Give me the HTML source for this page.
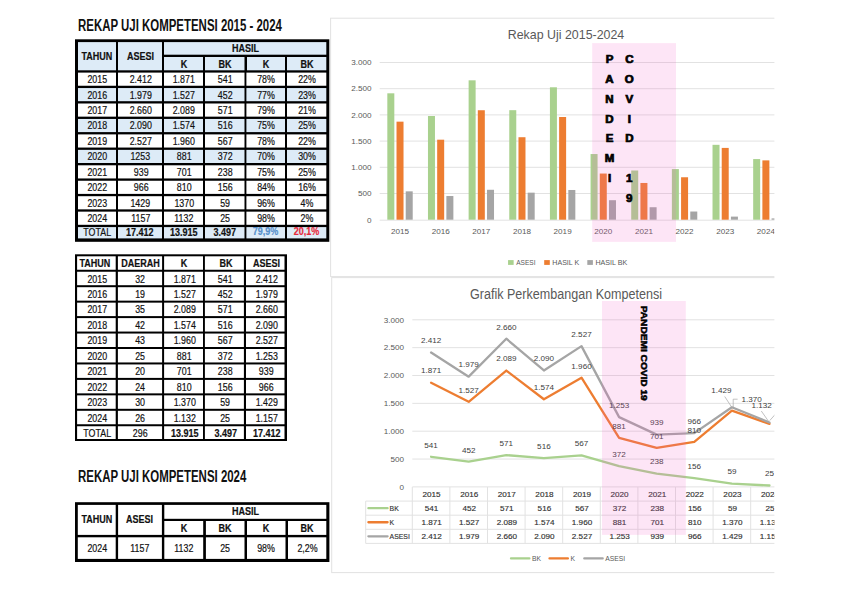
<!DOCTYPE html>
<html lang="id"><head><meta charset="utf-8"><title>Rekap Uji Kompetensi 2015 - 2024</title>
<style>
html,body{margin:0;padding:0;background:#fff}
body{width:842px;height:595px;position:relative;overflow:hidden;font-family:"Liberation Sans", sans-serif;color:#111}
svg{position:absolute;left:0;top:0}
svg text{font-family:"Liberation Sans", sans-serif}
.c{position:absolute;display:flex;align-items:center;justify-content:center;font-size:11px;line-height:1;white-space:nowrap}
.c span{display:inline-block;transform:scaleX(0.805);-webkit-text-stroke-width:0.2px}
.b{font-weight:bold}
.b span{transform:scaleX(0.82)}
.ttl{position:absolute;font-size:15.8px;font-weight:bold;line-height:1;white-space:nowrap}
.ttl span{display:inline-block;transform:scaleX(0.7245);transform-origin:0 50%}
</style></head><body>
<svg width="842" height="595" viewBox="0 0 842 595">
<defs><clipPath id="cl"><rect x="0" y="0" width="774.4" height="595"/></clipPath></defs>
<g clip-path="url(#cl)">
<rect x="330.6" y="18.2" width="500" height="258.40000000000003" fill="#fff" stroke="#e2e2e2" stroke-width="1"/>
<line x1="379.7" y1="220.20" x2="786.2" y2="220.20" stroke="#e2e2e2" stroke-width="1"/>
<text transform="translate(371.50,223.20) scale(1.1,1)" font-size="7.4" text-anchor="end" fill="#595959" font-weight="normal">0</text>
<line x1="379.7" y1="193.50" x2="786.2" y2="193.50" stroke="#e2e2e2" stroke-width="1"/>
<text transform="translate(371.50,196.10) scale(1.1,1)" font-size="7.4" text-anchor="end" fill="#595959" font-weight="normal">500</text>
<line x1="379.7" y1="167.30" x2="786.2" y2="167.30" stroke="#e2e2e2" stroke-width="1"/>
<text transform="translate(371.50,169.90) scale(1.1,1)" font-size="7.4" text-anchor="end" fill="#595959" font-weight="normal">1.000</text>
<line x1="379.7" y1="141.10" x2="786.2" y2="141.10" stroke="#e2e2e2" stroke-width="1"/>
<text transform="translate(371.50,143.70) scale(1.1,1)" font-size="7.4" text-anchor="end" fill="#595959" font-weight="normal">1.500</text>
<line x1="379.7" y1="114.90" x2="786.2" y2="114.90" stroke="#e2e2e2" stroke-width="1"/>
<text transform="translate(371.50,117.50) scale(1.1,1)" font-size="7.4" text-anchor="end" fill="#595959" font-weight="normal">2.000</text>
<line x1="379.7" y1="88.70" x2="786.2" y2="88.70" stroke="#e2e2e2" stroke-width="1"/>
<text transform="translate(371.50,91.30) scale(1.1,1)" font-size="7.4" text-anchor="end" fill="#595959" font-weight="normal">2.500</text>
<line x1="379.7" y1="62.50" x2="786.2" y2="62.50" stroke="#e2e2e2" stroke-width="1"/>
<text transform="translate(371.50,65.10) scale(1.1,1)" font-size="7.4" text-anchor="end" fill="#595959" font-weight="normal">3.000</text>
<rect x="387.32" y="93.31" width="7.0" height="126.39" fill="#a9d18e"/>
<rect x="396.52" y="121.66" width="7.0" height="98.04" fill="#ed7d31"/>
<rect x="405.72" y="191.35" width="7.0" height="28.35" fill="#a5a5a5"/>
<text transform="translate(400.02,234.30) scale(1.1,1)" font-size="7.4" text-anchor="middle" fill="#595959" font-weight="normal">2015</text>
<rect x="427.97" y="116.00" width="7.0" height="103.70" fill="#a9d18e"/>
<rect x="437.17" y="139.69" width="7.0" height="80.01" fill="#ed7d31"/>
<rect x="446.37" y="196.02" width="7.0" height="23.68" fill="#a5a5a5"/>
<text transform="translate(440.67,234.30) scale(1.1,1)" font-size="7.4" text-anchor="middle" fill="#595959" font-weight="normal">2016</text>
<rect x="468.62" y="80.32" width="7.0" height="139.38" fill="#a9d18e"/>
<rect x="477.82" y="110.24" width="7.0" height="109.46" fill="#ed7d31"/>
<rect x="487.02" y="189.78" width="7.0" height="29.92" fill="#a5a5a5"/>
<text transform="translate(481.32,234.30) scale(1.1,1)" font-size="7.4" text-anchor="middle" fill="#595959" font-weight="normal">2017</text>
<rect x="509.27" y="110.18" width="7.0" height="109.52" fill="#a9d18e"/>
<rect x="518.48" y="137.22" width="7.0" height="82.48" fill="#ed7d31"/>
<rect x="527.68" y="192.66" width="7.0" height="27.04" fill="#a5a5a5"/>
<text transform="translate(521.98,234.30) scale(1.1,1)" font-size="7.4" text-anchor="middle" fill="#595959" font-weight="normal">2018</text>
<rect x="549.92" y="87.29" width="7.0" height="132.41" fill="#a9d18e"/>
<rect x="559.12" y="117.00" width="7.0" height="102.70" fill="#ed7d31"/>
<rect x="568.33" y="189.99" width="7.0" height="29.71" fill="#a5a5a5"/>
<text transform="translate(562.62,234.30) scale(1.1,1)" font-size="7.4" text-anchor="middle" fill="#595959" font-weight="normal">2019</text>
<rect x="590.57" y="154.04" width="7.0" height="65.66" fill="#a9d18e"/>
<rect x="599.77" y="173.54" width="7.0" height="46.16" fill="#ed7d31"/>
<rect x="608.98" y="200.21" width="7.0" height="19.49" fill="#a5a5a5"/>
<text transform="translate(603.27,234.30) scale(1.1,1)" font-size="7.4" text-anchor="middle" fill="#595959" font-weight="normal">2020</text>
<rect x="631.22" y="170.50" width="7.0" height="49.20" fill="#a9d18e"/>
<rect x="640.42" y="182.97" width="7.0" height="36.73" fill="#ed7d31"/>
<rect x="649.62" y="207.23" width="7.0" height="12.47" fill="#a5a5a5"/>
<text transform="translate(643.92,234.30) scale(1.1,1)" font-size="7.4" text-anchor="middle" fill="#595959" font-weight="normal">2021</text>
<rect x="671.88" y="169.08" width="7.0" height="50.62" fill="#a9d18e"/>
<rect x="681.08" y="177.26" width="7.0" height="42.44" fill="#ed7d31"/>
<rect x="690.28" y="211.53" width="7.0" height="8.17" fill="#a5a5a5"/>
<text transform="translate(684.58,234.30) scale(1.1,1)" font-size="7.4" text-anchor="middle" fill="#595959" font-weight="normal">2022</text>
<rect x="712.52" y="144.82" width="7.0" height="74.88" fill="#a9d18e"/>
<rect x="721.72" y="147.91" width="7.0" height="71.79" fill="#ed7d31"/>
<rect x="730.92" y="216.61" width="7.0" height="3.09" fill="#a5a5a5"/>
<text transform="translate(725.22,234.30) scale(1.1,1)" font-size="7.4" text-anchor="middle" fill="#595959" font-weight="normal">2023</text>
<rect x="753.17" y="159.07" width="7.0" height="60.63" fill="#a9d18e"/>
<rect x="762.38" y="160.38" width="7.0" height="59.32" fill="#ed7d31"/>
<rect x="771.58" y="218.39" width="7.0" height="1.31" fill="#a5a5a5"/>
<text transform="translate(765.88,234.30) scale(1.1,1)" font-size="7.4" text-anchor="middle" fill="#595959" font-weight="normal">2024</text>
<text transform="translate(566.00,39.00) scale(1.0,1)" font-size="13.4" text-anchor="middle" fill="#595959" font-weight="normal" textLength="116.5" lengthAdjust="spacingAndGlyphs">Rekap Uji 2015-2024</text>
<rect x="508.05" y="260.1" width="5.6" height="4.8" fill="#a9d18e"/>
<text transform="translate(516.15,265.05) scale(1.0,1)" font-size="7.1" text-anchor="start" fill="#595959" font-weight="normal" textLength="19.4" lengthAdjust="spacingAndGlyphs">ASESI</text>
<rect x="544.2" y="260.1" width="5.6" height="4.8" fill="#ed7d31"/>
<text transform="translate(552.30,265.05) scale(1.0,1)" font-size="7.1" text-anchor="start" fill="#595959" font-weight="normal" textLength="26.9" lengthAdjust="spacingAndGlyphs">HASIL K</text>
<rect x="587.3" y="260.1" width="5.6" height="4.8" fill="#a5a5a5"/>
<text transform="translate(595.40,265.05) scale(1.0,1)" font-size="7.1" text-anchor="start" fill="#595959" font-weight="normal" textLength="31.9" lengthAdjust="spacingAndGlyphs">HASIL BK</text>
<rect x="592.2" y="43.1" width="83.8" height="198.8" fill="#f560c8" fill-opacity="0.165"/>
<text transform="translate(609.50,63.10) scale(1.15,1)" font-size="10" text-anchor="middle" fill="#000" font-weight="bold" stroke="#000" stroke-width="0.7">P</text>
<text transform="translate(629.30,63.10) scale(1.15,1)" font-size="10" text-anchor="middle" fill="#000" font-weight="bold" stroke="#000" stroke-width="0.7">C</text>
<text transform="translate(609.50,82.90) scale(1.15,1)" font-size="10" text-anchor="middle" fill="#000" font-weight="bold" stroke="#000" stroke-width="0.7">A</text>
<text transform="translate(629.30,82.90) scale(1.15,1)" font-size="10" text-anchor="middle" fill="#000" font-weight="bold" stroke="#000" stroke-width="0.7">O</text>
<text transform="translate(609.50,102.70) scale(1.15,1)" font-size="10" text-anchor="middle" fill="#000" font-weight="bold" stroke="#000" stroke-width="0.7">N</text>
<text transform="translate(629.30,102.70) scale(1.15,1)" font-size="10" text-anchor="middle" fill="#000" font-weight="bold" stroke="#000" stroke-width="0.7">V</text>
<text transform="translate(609.50,122.50) scale(1.15,1)" font-size="10" text-anchor="middle" fill="#000" font-weight="bold" stroke="#000" stroke-width="0.7">D</text>
<text transform="translate(629.30,122.50) scale(1.15,1)" font-size="10" text-anchor="middle" fill="#000" font-weight="bold" stroke="#000" stroke-width="0.7">I</text>
<text transform="translate(609.50,142.30) scale(1.15,1)" font-size="10" text-anchor="middle" fill="#000" font-weight="bold" stroke="#000" stroke-width="0.7">E</text>
<text transform="translate(629.30,142.30) scale(1.15,1)" font-size="10" text-anchor="middle" fill="#000" font-weight="bold" stroke="#000" stroke-width="0.7">D</text>
<text transform="translate(609.50,162.10) scale(1.15,1)" font-size="10" text-anchor="middle" fill="#000" font-weight="bold" stroke="#000" stroke-width="0.7">M</text>
<text transform="translate(609.50,181.90) scale(1.15,1)" font-size="10" text-anchor="middle" fill="#000" font-weight="bold" stroke="#000" stroke-width="0.7">I</text>
<text transform="translate(629.30,181.90) scale(1.15,1)" font-size="10" text-anchor="middle" fill="#000" font-weight="bold" stroke="#000" stroke-width="0.7">1</text>
<text transform="translate(629.30,201.70) scale(1.15,1)" font-size="10" text-anchor="middle" fill="#000" font-weight="bold" stroke="#000" stroke-width="0.7">9</text>
<rect x="331.7" y="277.6" width="500" height="295.0" fill="#fff" stroke="#e2e2e2" stroke-width="1"/>
<line x1="412.3" y1="486.90" x2="788.3" y2="486.90" stroke="#e2e2e2" stroke-width="1"/>
<text transform="translate(404.00,489.60) scale(1.1,1)" font-size="7.4" text-anchor="end" fill="#595959" font-weight="normal">0</text>
<line x1="412.3" y1="459.05" x2="788.3" y2="459.05" stroke="#e2e2e2" stroke-width="1"/>
<text transform="translate(404.00,461.75) scale(1.1,1)" font-size="7.4" text-anchor="end" fill="#595959" font-weight="normal">500</text>
<line x1="412.3" y1="431.20" x2="788.3" y2="431.20" stroke="#e2e2e2" stroke-width="1"/>
<text transform="translate(404.00,433.90) scale(1.1,1)" font-size="7.4" text-anchor="end" fill="#595959" font-weight="normal">1.000</text>
<line x1="412.3" y1="403.35" x2="788.3" y2="403.35" stroke="#e2e2e2" stroke-width="1"/>
<text transform="translate(404.00,406.05) scale(1.1,1)" font-size="7.4" text-anchor="end" fill="#595959" font-weight="normal">1.500</text>
<line x1="412.3" y1="375.50" x2="788.3" y2="375.50" stroke="#e2e2e2" stroke-width="1"/>
<text transform="translate(404.00,378.20) scale(1.1,1)" font-size="7.4" text-anchor="end" fill="#595959" font-weight="normal">2.000</text>
<line x1="412.3" y1="347.65" x2="788.3" y2="347.65" stroke="#e2e2e2" stroke-width="1"/>
<text transform="translate(404.00,350.35) scale(1.1,1)" font-size="7.4" text-anchor="end" fill="#595959" font-weight="normal">2.500</text>
<line x1="412.3" y1="319.80" x2="788.3" y2="319.80" stroke="#e2e2e2" stroke-width="1"/>
<text transform="translate(404.00,322.50) scale(1.1,1)" font-size="7.4" text-anchor="end" fill="#595959" font-weight="normal">3.000</text>
<line x1="365.7" y1="501.1" x2="788.3" y2="501.1" stroke="#e2e2e2" stroke-width="1"/>
<line x1="365.7" y1="515.2" x2="788.3" y2="515.2" stroke="#e2e2e2" stroke-width="1"/>
<line x1="365.7" y1="529.3" x2="788.3" y2="529.3" stroke="#e2e2e2" stroke-width="1"/>
<line x1="365.7" y1="543.4" x2="788.3" y2="543.4" stroke="#e2e2e2" stroke-width="1"/>
<line x1="365.7" y1="501.1" x2="365.7" y2="543.4" stroke="#e2e2e2" stroke-width="1"/>
<line x1="412.30" y1="487.0" x2="412.30" y2="543.4" stroke="#e2e2e2" stroke-width="1"/>
<line x1="449.90" y1="487.0" x2="449.90" y2="543.4" stroke="#e2e2e2" stroke-width="1"/>
<line x1="487.50" y1="487.0" x2="487.50" y2="543.4" stroke="#e2e2e2" stroke-width="1"/>
<line x1="525.10" y1="487.0" x2="525.10" y2="543.4" stroke="#e2e2e2" stroke-width="1"/>
<line x1="562.70" y1="487.0" x2="562.70" y2="543.4" stroke="#e2e2e2" stroke-width="1"/>
<line x1="600.30" y1="487.0" x2="600.30" y2="543.4" stroke="#e2e2e2" stroke-width="1"/>
<line x1="637.90" y1="487.0" x2="637.90" y2="543.4" stroke="#e2e2e2" stroke-width="1"/>
<line x1="675.50" y1="487.0" x2="675.50" y2="543.4" stroke="#e2e2e2" stroke-width="1"/>
<line x1="713.10" y1="487.0" x2="713.10" y2="543.4" stroke="#e2e2e2" stroke-width="1"/>
<line x1="750.70" y1="487.0" x2="750.70" y2="543.4" stroke="#e2e2e2" stroke-width="1"/>
<line x1="788.30" y1="487.0" x2="788.30" y2="543.4" stroke="#e2e2e2" stroke-width="1"/>
<text transform="translate(431.60,497.00) scale(1.1,1)" font-size="7.4" text-anchor="middle" fill="#333" font-weight="normal" stroke="#333" stroke-width="0.15">2015</text>
<text transform="translate(431.60,510.80) scale(1.1,1)" font-size="7.4" text-anchor="middle" fill="#333" font-weight="normal" stroke="#333" stroke-width="0.15">541</text>
<text transform="translate(431.60,524.90) scale(1.1,1)" font-size="7.4" text-anchor="middle" fill="#333" font-weight="normal" stroke="#333" stroke-width="0.15">1.871</text>
<text transform="translate(431.60,539.00) scale(1.1,1)" font-size="7.4" text-anchor="middle" fill="#333" font-weight="normal" stroke="#333" stroke-width="0.15">2.412</text>
<text transform="translate(469.20,497.00) scale(1.1,1)" font-size="7.4" text-anchor="middle" fill="#333" font-weight="normal" stroke="#333" stroke-width="0.15">2016</text>
<text transform="translate(469.20,510.80) scale(1.1,1)" font-size="7.4" text-anchor="middle" fill="#333" font-weight="normal" stroke="#333" stroke-width="0.15">452</text>
<text transform="translate(469.20,524.90) scale(1.1,1)" font-size="7.4" text-anchor="middle" fill="#333" font-weight="normal" stroke="#333" stroke-width="0.15">1.527</text>
<text transform="translate(469.20,539.00) scale(1.1,1)" font-size="7.4" text-anchor="middle" fill="#333" font-weight="normal" stroke="#333" stroke-width="0.15">1.979</text>
<text transform="translate(506.80,497.00) scale(1.1,1)" font-size="7.4" text-anchor="middle" fill="#333" font-weight="normal" stroke="#333" stroke-width="0.15">2017</text>
<text transform="translate(506.80,510.80) scale(1.1,1)" font-size="7.4" text-anchor="middle" fill="#333" font-weight="normal" stroke="#333" stroke-width="0.15">571</text>
<text transform="translate(506.80,524.90) scale(1.1,1)" font-size="7.4" text-anchor="middle" fill="#333" font-weight="normal" stroke="#333" stroke-width="0.15">2.089</text>
<text transform="translate(506.80,539.00) scale(1.1,1)" font-size="7.4" text-anchor="middle" fill="#333" font-weight="normal" stroke="#333" stroke-width="0.15">2.660</text>
<text transform="translate(544.40,497.00) scale(1.1,1)" font-size="7.4" text-anchor="middle" fill="#333" font-weight="normal" stroke="#333" stroke-width="0.15">2018</text>
<text transform="translate(544.40,510.80) scale(1.1,1)" font-size="7.4" text-anchor="middle" fill="#333" font-weight="normal" stroke="#333" stroke-width="0.15">516</text>
<text transform="translate(544.40,524.90) scale(1.1,1)" font-size="7.4" text-anchor="middle" fill="#333" font-weight="normal" stroke="#333" stroke-width="0.15">1.574</text>
<text transform="translate(544.40,539.00) scale(1.1,1)" font-size="7.4" text-anchor="middle" fill="#333" font-weight="normal" stroke="#333" stroke-width="0.15">2.090</text>
<text transform="translate(582.00,497.00) scale(1.1,1)" font-size="7.4" text-anchor="middle" fill="#333" font-weight="normal" stroke="#333" stroke-width="0.15">2019</text>
<text transform="translate(582.00,510.80) scale(1.1,1)" font-size="7.4" text-anchor="middle" fill="#333" font-weight="normal" stroke="#333" stroke-width="0.15">567</text>
<text transform="translate(582.00,524.90) scale(1.1,1)" font-size="7.4" text-anchor="middle" fill="#333" font-weight="normal" stroke="#333" stroke-width="0.15">1.960</text>
<text transform="translate(582.00,539.00) scale(1.1,1)" font-size="7.4" text-anchor="middle" fill="#333" font-weight="normal" stroke="#333" stroke-width="0.15">2.527</text>
<text transform="translate(619.60,497.00) scale(1.1,1)" font-size="7.4" text-anchor="middle" fill="#333" font-weight="normal" stroke="#333" stroke-width="0.15">2020</text>
<text transform="translate(619.60,510.80) scale(1.1,1)" font-size="7.4" text-anchor="middle" fill="#333" font-weight="normal" stroke="#333" stroke-width="0.15">372</text>
<text transform="translate(619.60,524.90) scale(1.1,1)" font-size="7.4" text-anchor="middle" fill="#333" font-weight="normal" stroke="#333" stroke-width="0.15">881</text>
<text transform="translate(619.60,539.00) scale(1.1,1)" font-size="7.4" text-anchor="middle" fill="#333" font-weight="normal" stroke="#333" stroke-width="0.15">1.253</text>
<text transform="translate(657.20,497.00) scale(1.1,1)" font-size="7.4" text-anchor="middle" fill="#333" font-weight="normal" stroke="#333" stroke-width="0.15">2021</text>
<text transform="translate(657.20,510.80) scale(1.1,1)" font-size="7.4" text-anchor="middle" fill="#333" font-weight="normal" stroke="#333" stroke-width="0.15">238</text>
<text transform="translate(657.20,524.90) scale(1.1,1)" font-size="7.4" text-anchor="middle" fill="#333" font-weight="normal" stroke="#333" stroke-width="0.15">701</text>
<text transform="translate(657.20,539.00) scale(1.1,1)" font-size="7.4" text-anchor="middle" fill="#333" font-weight="normal" stroke="#333" stroke-width="0.15">939</text>
<text transform="translate(694.80,497.00) scale(1.1,1)" font-size="7.4" text-anchor="middle" fill="#333" font-weight="normal" stroke="#333" stroke-width="0.15">2022</text>
<text transform="translate(694.80,510.80) scale(1.1,1)" font-size="7.4" text-anchor="middle" fill="#333" font-weight="normal" stroke="#333" stroke-width="0.15">156</text>
<text transform="translate(694.80,524.90) scale(1.1,1)" font-size="7.4" text-anchor="middle" fill="#333" font-weight="normal" stroke="#333" stroke-width="0.15">810</text>
<text transform="translate(694.80,539.00) scale(1.1,1)" font-size="7.4" text-anchor="middle" fill="#333" font-weight="normal" stroke="#333" stroke-width="0.15">966</text>
<text transform="translate(732.40,497.00) scale(1.1,1)" font-size="7.4" text-anchor="middle" fill="#333" font-weight="normal" stroke="#333" stroke-width="0.15">2023</text>
<text transform="translate(732.40,510.80) scale(1.1,1)" font-size="7.4" text-anchor="middle" fill="#333" font-weight="normal" stroke="#333" stroke-width="0.15">59</text>
<text transform="translate(732.40,524.90) scale(1.1,1)" font-size="7.4" text-anchor="middle" fill="#333" font-weight="normal" stroke="#333" stroke-width="0.15">1.370</text>
<text transform="translate(732.40,539.00) scale(1.1,1)" font-size="7.4" text-anchor="middle" fill="#333" font-weight="normal" stroke="#333" stroke-width="0.15">1.429</text>
<text transform="translate(770.00,497.00) scale(1.1,1)" font-size="7.4" text-anchor="middle" fill="#333" font-weight="normal" stroke="#333" stroke-width="0.15">2024</text>
<text transform="translate(770.00,510.80) scale(1.1,1)" font-size="7.4" text-anchor="middle" fill="#333" font-weight="normal" stroke="#333" stroke-width="0.15">25</text>
<text transform="translate(770.00,524.90) scale(1.1,1)" font-size="7.4" text-anchor="middle" fill="#333" font-weight="normal" stroke="#333" stroke-width="0.15">1.132</text>
<text transform="translate(770.00,539.00) scale(1.1,1)" font-size="7.4" text-anchor="middle" fill="#333" font-weight="normal" stroke="#333" stroke-width="0.15">1.157</text>
<line x1="368.4" y1="508.15000000000003" x2="387.6" y2="508.15000000000003" stroke="#a9d18e" stroke-width="2.3" stroke-linecap="round"/>
<text transform="translate(389.60,510.75) scale(0.93,1)" font-size="7.4" text-anchor="start" fill="#333" font-weight="normal" stroke="#333" stroke-width="0.15">BK</text>
<line x1="368.4" y1="522.25" x2="387.6" y2="522.25" stroke="#ed7d31" stroke-width="2.3" stroke-linecap="round"/>
<text transform="translate(389.60,524.85) scale(0.93,1)" font-size="7.4" text-anchor="start" fill="#333" font-weight="normal" stroke="#333" stroke-width="0.15">K</text>
<line x1="368.4" y1="536.3499999999999" x2="387.6" y2="536.3499999999999" stroke="#a5a5a5" stroke-width="2.3" stroke-linecap="round"/>
<text transform="translate(389.60,538.95) scale(0.93,1)" font-size="7.4" text-anchor="start" fill="#333" font-weight="normal" stroke="#333" stroke-width="0.15">ASESI</text>
<polyline points="431.10,456.77 468.70,461.72 506.30,455.10 543.90,458.16 581.50,455.32 619.10,466.18 656.70,473.64 694.30,478.21 731.90,483.61 769.50,485.51" fill="none" stroke="#a9d18e" stroke-width="2.3" stroke-linejoin="round" stroke-linecap="round"/>
<polyline points="431.10,382.69 468.70,401.85 506.30,370.54 543.90,399.23 581.50,377.73 619.10,437.83 656.70,447.85 694.30,441.78 731.90,410.59 769.50,423.85" fill="none" stroke="#ed7d31" stroke-width="2.3" stroke-linejoin="round" stroke-linecap="round"/>
<polyline points="431.10,352.55 468.70,376.67 506.30,338.74 543.90,370.49 581.50,346.15 619.10,417.11 656.70,434.60 694.30,433.09 731.90,407.30 769.50,422.46" fill="none" stroke="#a5a5a5" stroke-width="2.3" stroke-linejoin="round" stroke-linecap="round"/>
<text transform="translate(431.10,343.35) scale(1.1,1)" font-size="7.4" text-anchor="middle" fill="#404040" font-weight="normal">2.412</text>
<text transform="translate(468.70,367.47) scale(1.1,1)" font-size="7.4" text-anchor="middle" fill="#404040" font-weight="normal">1.979</text>
<text transform="translate(506.30,329.54) scale(1.1,1)" font-size="7.4" text-anchor="middle" fill="#404040" font-weight="normal">2.660</text>
<text transform="translate(543.90,361.29) scale(1.1,1)" font-size="7.4" text-anchor="middle" fill="#404040" font-weight="normal">2.090</text>
<text transform="translate(581.50,336.95) scale(1.1,1)" font-size="7.4" text-anchor="middle" fill="#404040" font-weight="normal">2.527</text>
<text transform="translate(619.10,407.91) scale(1.1,1)" font-size="7.4" text-anchor="middle" fill="#404040" font-weight="normal">1.253</text>
<text transform="translate(656.70,425.40) scale(1.1,1)" font-size="7.4" text-anchor="middle" fill="#404040" font-weight="normal">939</text>
<text transform="translate(694.30,423.89) scale(1.1,1)" font-size="7.4" text-anchor="middle" fill="#404040" font-weight="normal">966</text>
<text transform="translate(721.30,392.80) scale(1.1,1)" font-size="7.4" text-anchor="middle" fill="#404040" font-weight="normal">1.429</text>
<text transform="translate(790.00,412.60) scale(1.1,1)" font-size="7.4" text-anchor="middle" fill="#404040" font-weight="normal">1.157</text>
<text transform="translate(431.10,373.49) scale(1.1,1)" font-size="7.4" text-anchor="middle" fill="#404040" font-weight="normal">1.871</text>
<text transform="translate(468.70,392.65) scale(1.1,1)" font-size="7.4" text-anchor="middle" fill="#404040" font-weight="normal">1.527</text>
<text transform="translate(506.30,361.34) scale(1.1,1)" font-size="7.4" text-anchor="middle" fill="#404040" font-weight="normal">2.089</text>
<text transform="translate(543.90,390.03) scale(1.1,1)" font-size="7.4" text-anchor="middle" fill="#404040" font-weight="normal">1.574</text>
<text transform="translate(581.50,368.53) scale(1.1,1)" font-size="7.4" text-anchor="middle" fill="#404040" font-weight="normal">1.960</text>
<text transform="translate(619.10,428.63) scale(1.1,1)" font-size="7.4" text-anchor="middle" fill="#404040" font-weight="normal">881</text>
<text transform="translate(656.70,438.65) scale(1.1,1)" font-size="7.4" text-anchor="middle" fill="#404040" font-weight="normal">701</text>
<text transform="translate(694.30,432.58) scale(1.1,1)" font-size="7.4" text-anchor="middle" fill="#404040" font-weight="normal">810</text>
<text transform="translate(751.60,401.80) scale(1.1,1)" font-size="7.4" text-anchor="middle" fill="#404040" font-weight="normal">1.370</text>
<text transform="translate(761.70,408.20) scale(1.1,1)" font-size="7.4" text-anchor="middle" fill="#404040" font-weight="normal">1.132</text>
<text transform="translate(431.10,447.57) scale(1.1,1)" font-size="7.4" text-anchor="middle" fill="#404040" font-weight="normal">541</text>
<text transform="translate(468.70,452.52) scale(1.1,1)" font-size="7.4" text-anchor="middle" fill="#404040" font-weight="normal">452</text>
<text transform="translate(506.30,445.90) scale(1.1,1)" font-size="7.4" text-anchor="middle" fill="#404040" font-weight="normal">571</text>
<text transform="translate(543.90,448.96) scale(1.1,1)" font-size="7.4" text-anchor="middle" fill="#404040" font-weight="normal">516</text>
<text transform="translate(581.50,446.12) scale(1.1,1)" font-size="7.4" text-anchor="middle" fill="#404040" font-weight="normal">567</text>
<text transform="translate(619.10,456.98) scale(1.1,1)" font-size="7.4" text-anchor="middle" fill="#404040" font-weight="normal">372</text>
<text transform="translate(656.70,464.44) scale(1.1,1)" font-size="7.4" text-anchor="middle" fill="#404040" font-weight="normal">238</text>
<text transform="translate(694.30,469.01) scale(1.1,1)" font-size="7.4" text-anchor="middle" fill="#404040" font-weight="normal">156</text>
<text transform="translate(731.90,474.41) scale(1.1,1)" font-size="7.4" text-anchor="middle" fill="#404040" font-weight="normal">59</text>
<text transform="translate(769.50,476.31) scale(1.1,1)" font-size="7.4" text-anchor="middle" fill="#404040" font-weight="normal">25</text>
<polyline points="724.7,396.5 731.6,407" fill="none" stroke="#a6a6a6" stroke-width="0.7"/>
<polyline points="737.6,399.2 733.2,399.2 733.2,407.5" fill="none" stroke="#a6a6a6" stroke-width="0.7"/>
<polyline points="769.8,420.5 776,413.5" fill="none" stroke="#a6a6a6" stroke-width="0.7"/>
<polyline points="761.3,411 768.3,421" fill="none" stroke="#a6a6a6" stroke-width="0.7"/>
<text transform="translate(566.00,299.20) scale(1.0,1)" font-size="13.8" text-anchor="middle" fill="#595959" font-weight="normal" textLength="192" lengthAdjust="spacingAndGlyphs">Grafik Perkembangan Kompetensi</text>
<line x1="511.0" y1="558.4" x2="529.4" y2="558.4" stroke="#a9d18e" stroke-width="2.3" stroke-linecap="round"/>
<text transform="translate(532.00,560.95) scale(0.93,1)" font-size="7.3" text-anchor="start" fill="#595959" font-weight="normal">BK</text>
<line x1="549.5" y1="558.4" x2="567.9000000000001" y2="558.4" stroke="#ed7d31" stroke-width="2.3" stroke-linecap="round"/>
<text transform="translate(570.50,560.95) scale(0.93,1)" font-size="7.3" text-anchor="start" fill="#595959" font-weight="normal">K</text>
<line x1="584.3" y1="558.4" x2="602.7" y2="558.4" stroke="#a5a5a5" stroke-width="2.3" stroke-linecap="round"/>
<text transform="translate(605.30,560.95) scale(0.93,1)" font-size="7.3" text-anchor="start" fill="#595959" font-weight="normal">ASESI</text>
<rect x="602" y="301" width="83.8" height="233.9" fill="#f560c8" fill-opacity="0.165"/>
<text transform="translate(640.75,305.8) rotate(90) scale(1.18,1)" font-size="8.6" font-weight="bold" fill="#000" stroke="#000" stroke-width="0.5">PANDEMI COVID 19</text>
</g>
<rect x="75.00" y="39.30" width="254.30" height="202.50" fill="#000000"/>
<rect x="78.00" y="42.10" width="38.00" height="28.20" fill="#ddebf7"/>
<rect x="118.00" y="42.10" width="44.00" height="28.20" fill="#ddebf7"/>
<rect x="164.00" y="42.10" width="162.30" height="12.60" fill="#ddebf7"/>
<rect x="164.00" y="57.00" width="39.00" height="13.30" fill="#ddebf7"/>
<rect x="205.00" y="57.00" width="39.50" height="13.30" fill="#ddebf7"/>
<rect x="247.00" y="57.00" width="38.00" height="13.30" fill="#ddebf7"/>
<rect x="287.00" y="57.00" width="39.30" height="13.30" fill="#ddebf7"/>
<rect x="78.00" y="72.60" width="38.00" height="13.15" fill="#ffffff"/>
<rect x="118.00" y="72.60" width="44.00" height="13.15" fill="#ffffff"/>
<rect x="164.00" y="72.60" width="39.00" height="13.15" fill="#ffffff"/>
<rect x="205.00" y="72.60" width="39.50" height="13.15" fill="#ffffff"/>
<rect x="246.40" y="72.60" width="38.60" height="13.15" fill="#ffffff"/>
<rect x="287.00" y="72.60" width="39.30" height="13.15" fill="#ffffff"/>
<rect x="78.00" y="88.05" width="38.00" height="13.15" fill="#ddebf7"/>
<rect x="118.00" y="88.05" width="44.00" height="13.15" fill="#ddebf7"/>
<rect x="164.00" y="88.05" width="39.00" height="13.15" fill="#ddebf7"/>
<rect x="205.00" y="88.05" width="39.50" height="13.15" fill="#ddebf7"/>
<rect x="246.40" y="88.05" width="38.60" height="13.15" fill="#ddebf7"/>
<rect x="287.00" y="88.05" width="39.30" height="13.15" fill="#ddebf7"/>
<rect x="78.00" y="103.50" width="38.00" height="13.15" fill="#ffffff"/>
<rect x="118.00" y="103.50" width="44.00" height="13.15" fill="#ffffff"/>
<rect x="164.00" y="103.50" width="39.00" height="13.15" fill="#ffffff"/>
<rect x="205.00" y="103.50" width="39.50" height="13.15" fill="#ffffff"/>
<rect x="246.40" y="103.50" width="38.60" height="13.15" fill="#ffffff"/>
<rect x="287.00" y="103.50" width="39.30" height="13.15" fill="#ffffff"/>
<rect x="78.00" y="118.95" width="38.00" height="13.15" fill="#ddebf7"/>
<rect x="118.00" y="118.95" width="44.00" height="13.15" fill="#ddebf7"/>
<rect x="164.00" y="118.95" width="39.00" height="13.15" fill="#ddebf7"/>
<rect x="205.00" y="118.95" width="39.50" height="13.15" fill="#ddebf7"/>
<rect x="246.40" y="118.95" width="38.60" height="13.15" fill="#ddebf7"/>
<rect x="287.00" y="118.95" width="39.30" height="13.15" fill="#ddebf7"/>
<rect x="78.00" y="134.40" width="38.00" height="13.15" fill="#ffffff"/>
<rect x="118.00" y="134.40" width="44.00" height="13.15" fill="#ffffff"/>
<rect x="164.00" y="134.40" width="39.00" height="13.15" fill="#ffffff"/>
<rect x="205.00" y="134.40" width="39.50" height="13.15" fill="#ffffff"/>
<rect x="246.40" y="134.40" width="38.60" height="13.15" fill="#ffffff"/>
<rect x="287.00" y="134.40" width="39.30" height="13.15" fill="#ffffff"/>
<rect x="78.00" y="149.85" width="38.00" height="13.15" fill="#ddebf7"/>
<rect x="118.00" y="149.85" width="44.00" height="13.15" fill="#ddebf7"/>
<rect x="164.00" y="149.85" width="39.00" height="13.15" fill="#ddebf7"/>
<rect x="205.00" y="149.85" width="39.50" height="13.15" fill="#ddebf7"/>
<rect x="246.40" y="149.85" width="38.60" height="13.15" fill="#ddebf7"/>
<rect x="287.00" y="149.85" width="39.30" height="13.15" fill="#ddebf7"/>
<rect x="78.00" y="165.30" width="38.00" height="13.15" fill="#ffffff"/>
<rect x="118.00" y="165.30" width="44.00" height="13.15" fill="#ffffff"/>
<rect x="164.00" y="165.30" width="39.00" height="13.15" fill="#ffffff"/>
<rect x="205.00" y="165.30" width="39.50" height="13.15" fill="#ffffff"/>
<rect x="246.40" y="165.30" width="38.60" height="13.15" fill="#ffffff"/>
<rect x="287.00" y="165.30" width="39.30" height="13.15" fill="#ffffff"/>
<rect x="78.00" y="180.75" width="38.00" height="13.15" fill="#ffffff"/>
<rect x="118.00" y="180.75" width="44.00" height="13.15" fill="#ffffff"/>
<rect x="164.00" y="180.75" width="39.00" height="13.15" fill="#ffffff"/>
<rect x="205.00" y="180.75" width="39.50" height="13.15" fill="#ffffff"/>
<rect x="246.40" y="180.75" width="38.60" height="13.15" fill="#ffffff"/>
<rect x="287.00" y="180.75" width="39.30" height="13.15" fill="#ffffff"/>
<rect x="78.00" y="196.20" width="38.00" height="13.15" fill="#ffffff"/>
<rect x="118.00" y="196.20" width="44.00" height="13.15" fill="#ffffff"/>
<rect x="164.00" y="196.20" width="39.00" height="13.15" fill="#ffffff"/>
<rect x="205.00" y="196.20" width="39.50" height="13.15" fill="#ffffff"/>
<rect x="246.40" y="196.20" width="38.60" height="13.15" fill="#ffffff"/>
<rect x="287.00" y="196.20" width="39.30" height="13.15" fill="#ffffff"/>
<rect x="78.00" y="211.65" width="38.00" height="13.15" fill="#ffffff"/>
<rect x="118.00" y="211.65" width="44.00" height="13.15" fill="#ffffff"/>
<rect x="164.00" y="211.65" width="39.00" height="13.15" fill="#ffffff"/>
<rect x="205.00" y="211.65" width="39.50" height="13.15" fill="#ffffff"/>
<rect x="246.40" y="211.65" width="38.60" height="13.15" fill="#ffffff"/>
<rect x="287.00" y="211.65" width="39.30" height="13.15" fill="#ffffff"/>
<rect x="78.00" y="227.10" width="38.00" height="11.30" fill="#ddebf7"/>
<rect x="118.00" y="227.10" width="44.00" height="11.30" fill="#ddebf7"/>
<rect x="164.00" y="227.10" width="39.00" height="11.30" fill="#ddebf7"/>
<rect x="205.00" y="227.10" width="39.50" height="11.30" fill="#ddebf7"/>
<rect x="246.40" y="227.10" width="38.60" height="11.30" fill="#ddebf7"/>
<rect x="287.00" y="227.10" width="39.30" height="11.30" fill="#ddebf7"/>
<rect x="75.00" y="254.30" width="212.00" height="186.70" fill="#000000"/>
<rect x="77.10" y="256.30" width="38.60" height="13.45" fill="#ffffff"/>
<rect x="117.90" y="256.30" width="44.20" height="13.45" fill="#ffffff"/>
<rect x="164.10" y="256.30" width="38.90" height="13.45" fill="#ffffff"/>
<rect x="204.90" y="256.30" width="39.00" height="13.45" fill="#ffffff"/>
<rect x="246.00" y="256.30" width="38.50" height="13.45" fill="#ffffff"/>
<rect x="77.10" y="271.75" width="38.60" height="13.45" fill="#ffffff"/>
<rect x="117.90" y="271.75" width="44.20" height="13.45" fill="#ffffff"/>
<rect x="164.10" y="271.75" width="38.90" height="13.45" fill="#ffffff"/>
<rect x="204.90" y="271.75" width="39.00" height="13.45" fill="#ffffff"/>
<rect x="246.00" y="271.75" width="38.50" height="13.45" fill="#ffffff"/>
<rect x="77.10" y="287.20" width="38.60" height="13.45" fill="#ffffff"/>
<rect x="117.90" y="287.20" width="44.20" height="13.45" fill="#ffffff"/>
<rect x="164.10" y="287.20" width="38.90" height="13.45" fill="#ffffff"/>
<rect x="204.90" y="287.20" width="39.00" height="13.45" fill="#ffffff"/>
<rect x="246.00" y="287.20" width="38.50" height="13.45" fill="#ffffff"/>
<rect x="77.10" y="302.65" width="38.60" height="13.45" fill="#ffffff"/>
<rect x="117.90" y="302.65" width="44.20" height="13.45" fill="#ffffff"/>
<rect x="164.10" y="302.65" width="38.90" height="13.45" fill="#ffffff"/>
<rect x="204.90" y="302.65" width="39.00" height="13.45" fill="#ffffff"/>
<rect x="246.00" y="302.65" width="38.50" height="13.45" fill="#ffffff"/>
<rect x="77.10" y="318.10" width="38.60" height="13.45" fill="#ffffff"/>
<rect x="117.90" y="318.10" width="44.20" height="13.45" fill="#ffffff"/>
<rect x="164.10" y="318.10" width="38.90" height="13.45" fill="#ffffff"/>
<rect x="204.90" y="318.10" width="39.00" height="13.45" fill="#ffffff"/>
<rect x="246.00" y="318.10" width="38.50" height="13.45" fill="#ffffff"/>
<rect x="77.10" y="333.55" width="38.60" height="13.45" fill="#ffffff"/>
<rect x="117.90" y="333.55" width="44.20" height="13.45" fill="#ffffff"/>
<rect x="164.10" y="333.55" width="38.90" height="13.45" fill="#ffffff"/>
<rect x="204.90" y="333.55" width="39.00" height="13.45" fill="#ffffff"/>
<rect x="246.00" y="333.55" width="38.50" height="13.45" fill="#ffffff"/>
<rect x="77.10" y="349.00" width="38.60" height="13.45" fill="#ffffff"/>
<rect x="117.90" y="349.00" width="44.20" height="13.45" fill="#ffffff"/>
<rect x="164.10" y="349.00" width="38.90" height="13.45" fill="#ffffff"/>
<rect x="204.90" y="349.00" width="39.00" height="13.45" fill="#ffffff"/>
<rect x="246.00" y="349.00" width="38.50" height="13.45" fill="#ffffff"/>
<rect x="77.10" y="364.45" width="38.60" height="13.45" fill="#ffffff"/>
<rect x="117.90" y="364.45" width="44.20" height="13.45" fill="#ffffff"/>
<rect x="164.10" y="364.45" width="38.90" height="13.45" fill="#ffffff"/>
<rect x="204.90" y="364.45" width="39.00" height="13.45" fill="#ffffff"/>
<rect x="246.00" y="364.45" width="38.50" height="13.45" fill="#ffffff"/>
<rect x="77.10" y="379.90" width="38.60" height="13.45" fill="#ffffff"/>
<rect x="117.90" y="379.90" width="44.20" height="13.45" fill="#ffffff"/>
<rect x="164.10" y="379.90" width="38.90" height="13.45" fill="#ffffff"/>
<rect x="204.90" y="379.90" width="39.00" height="13.45" fill="#ffffff"/>
<rect x="246.00" y="379.90" width="38.50" height="13.45" fill="#ffffff"/>
<rect x="77.10" y="395.35" width="38.60" height="13.45" fill="#ffffff"/>
<rect x="117.90" y="395.35" width="44.20" height="13.45" fill="#ffffff"/>
<rect x="164.10" y="395.35" width="38.90" height="13.45" fill="#ffffff"/>
<rect x="204.90" y="395.35" width="39.00" height="13.45" fill="#ffffff"/>
<rect x="246.00" y="395.35" width="38.50" height="13.45" fill="#ffffff"/>
<rect x="77.10" y="410.80" width="38.60" height="13.45" fill="#ffffff"/>
<rect x="117.90" y="410.80" width="44.20" height="13.45" fill="#ffffff"/>
<rect x="164.10" y="410.80" width="38.90" height="13.45" fill="#ffffff"/>
<rect x="204.90" y="410.80" width="39.00" height="13.45" fill="#ffffff"/>
<rect x="246.00" y="410.80" width="38.50" height="13.45" fill="#ffffff"/>
<rect x="77.10" y="426.25" width="38.60" height="12.75" fill="#ffffff"/>
<rect x="117.90" y="426.25" width="44.20" height="12.75" fill="#ffffff"/>
<rect x="164.10" y="426.25" width="38.90" height="12.75" fill="#ffffff"/>
<rect x="204.90" y="426.25" width="39.00" height="12.75" fill="#ffffff"/>
<rect x="246.00" y="426.25" width="38.50" height="12.75" fill="#ffffff"/>
<rect x="75.00" y="502.20" width="254.40" height="59.80" fill="#000000"/>
<rect x="77.80" y="504.90" width="37.90" height="30.00" fill="#ffffff"/>
<rect x="118.10" y="504.90" width="43.80" height="30.00" fill="#ffffff"/>
<rect x="164.30" y="504.90" width="162.00" height="13.90" fill="#ffffff"/>
<rect x="164.30" y="521.00" width="38.90" height="13.90" fill="#ffffff"/>
<rect x="205.90" y="521.00" width="38.60" height="13.90" fill="#ffffff"/>
<rect x="247.00" y="521.00" width="38.50" height="13.90" fill="#ffffff"/>
<rect x="288.00" y="521.00" width="38.30" height="13.90" fill="#ffffff"/>
<rect x="77.80" y="537.30" width="37.90" height="21.60" fill="#ffffff"/>
<rect x="118.10" y="537.30" width="43.80" height="21.60" fill="#ffffff"/>
<rect x="164.30" y="537.30" width="38.90" height="21.60" fill="#ffffff"/>
<rect x="205.90" y="537.30" width="38.60" height="21.60" fill="#ffffff"/>
<rect x="247.00" y="537.30" width="38.50" height="21.60" fill="#ffffff"/>
<rect x="288.00" y="537.30" width="38.30" height="21.60" fill="#ffffff"/>
</svg>
<div class="c b" style="left:78.00px;top:42.10px;width:38.00px;height:28.20px;"><span>TAHUN</span></div>
<div class="c b" style="left:118.90px;top:42.10px;width:44.00px;height:28.20px;"><span>ASESI</span></div>
<div class="c b" style="left:164.00px;top:42.10px;width:162.30px;height:12.60px;"><span>HASIL</span></div>
<div class="c b" style="left:164.00px;top:57.60px;width:39.00px;height:13.30px;"><span>K</span></div>
<div class="c b" style="left:205.00px;top:57.60px;width:39.50px;height:13.30px;"><span>BK</span></div>
<div class="c b" style="left:247.00px;top:57.60px;width:38.00px;height:13.30px;"><span>K</span></div>
<div class="c b" style="left:287.00px;top:57.60px;width:39.30px;height:13.30px;"><span>BK</span></div>
<div class="c " style="left:78.00px;top:73.00px;width:38.00px;height:13.15px;"><span>2015</span></div>
<div class="c " style="left:118.70px;top:73.00px;width:44.00px;height:13.15px;"><span>2.412</span></div>
<div class="c " style="left:164.70px;top:73.00px;width:39.00px;height:13.15px;"><span>1.871</span></div>
<div class="c " style="left:205.40px;top:73.00px;width:39.50px;height:13.15px;"><span>541</span></div>
<div class="c " style="left:246.60px;top:73.00px;width:38.60px;height:13.15px;"><span>78%</span></div>
<div class="c " style="left:287.00px;top:73.00px;width:39.30px;height:13.15px;"><span>22%</span></div>
<div class="c " style="left:78.00px;top:88.45px;width:38.00px;height:13.15px;"><span>2016</span></div>
<div class="c " style="left:118.70px;top:88.45px;width:44.00px;height:13.15px;"><span>1.979</span></div>
<div class="c " style="left:164.70px;top:88.45px;width:39.00px;height:13.15px;"><span>1.527</span></div>
<div class="c " style="left:205.40px;top:88.45px;width:39.50px;height:13.15px;"><span>452</span></div>
<div class="c " style="left:246.60px;top:88.45px;width:38.60px;height:13.15px;"><span>77%</span></div>
<div class="c " style="left:287.00px;top:88.45px;width:39.30px;height:13.15px;"><span>23%</span></div>
<div class="c " style="left:78.00px;top:103.90px;width:38.00px;height:13.15px;"><span>2017</span></div>
<div class="c " style="left:118.70px;top:103.90px;width:44.00px;height:13.15px;"><span>2.660</span></div>
<div class="c " style="left:164.70px;top:103.90px;width:39.00px;height:13.15px;"><span>2.089</span></div>
<div class="c " style="left:205.40px;top:103.90px;width:39.50px;height:13.15px;"><span>571</span></div>
<div class="c " style="left:246.60px;top:103.90px;width:38.60px;height:13.15px;"><span>79%</span></div>
<div class="c " style="left:287.00px;top:103.90px;width:39.30px;height:13.15px;"><span>21%</span></div>
<div class="c " style="left:78.00px;top:119.35px;width:38.00px;height:13.15px;"><span>2018</span></div>
<div class="c " style="left:118.70px;top:119.35px;width:44.00px;height:13.15px;"><span>2.090</span></div>
<div class="c " style="left:164.70px;top:119.35px;width:39.00px;height:13.15px;"><span>1.574</span></div>
<div class="c " style="left:205.40px;top:119.35px;width:39.50px;height:13.15px;"><span>516</span></div>
<div class="c " style="left:246.60px;top:119.35px;width:38.60px;height:13.15px;"><span>75%</span></div>
<div class="c " style="left:287.00px;top:119.35px;width:39.30px;height:13.15px;"><span>25%</span></div>
<div class="c " style="left:78.00px;top:134.80px;width:38.00px;height:13.15px;"><span>2019</span></div>
<div class="c " style="left:118.70px;top:134.80px;width:44.00px;height:13.15px;"><span>2.527</span></div>
<div class="c " style="left:164.70px;top:134.80px;width:39.00px;height:13.15px;"><span>1.960</span></div>
<div class="c " style="left:205.40px;top:134.80px;width:39.50px;height:13.15px;"><span>567</span></div>
<div class="c " style="left:246.60px;top:134.80px;width:38.60px;height:13.15px;"><span>78%</span></div>
<div class="c " style="left:287.00px;top:134.80px;width:39.30px;height:13.15px;"><span>22%</span></div>
<div class="c " style="left:78.00px;top:150.25px;width:38.00px;height:13.15px;"><span>2020</span></div>
<div class="c " style="left:118.70px;top:150.25px;width:44.00px;height:13.15px;"><span>1253</span></div>
<div class="c " style="left:164.70px;top:150.25px;width:39.00px;height:13.15px;"><span>881</span></div>
<div class="c " style="left:205.40px;top:150.25px;width:39.50px;height:13.15px;"><span>372</span></div>
<div class="c " style="left:246.60px;top:150.25px;width:38.60px;height:13.15px;"><span>70%</span></div>
<div class="c " style="left:287.00px;top:150.25px;width:39.30px;height:13.15px;"><span>30%</span></div>
<div class="c " style="left:78.00px;top:165.70px;width:38.00px;height:13.15px;"><span>2021</span></div>
<div class="c " style="left:118.70px;top:165.70px;width:44.00px;height:13.15px;"><span>939</span></div>
<div class="c " style="left:164.70px;top:165.70px;width:39.00px;height:13.15px;"><span>701</span></div>
<div class="c " style="left:205.40px;top:165.70px;width:39.50px;height:13.15px;"><span>238</span></div>
<div class="c " style="left:246.60px;top:165.70px;width:38.60px;height:13.15px;"><span>75%</span></div>
<div class="c " style="left:287.00px;top:165.70px;width:39.30px;height:13.15px;"><span>25%</span></div>
<div class="c " style="left:78.00px;top:181.15px;width:38.00px;height:13.15px;"><span>2022</span></div>
<div class="c " style="left:118.70px;top:181.15px;width:44.00px;height:13.15px;"><span>966</span></div>
<div class="c " style="left:164.70px;top:181.15px;width:39.00px;height:13.15px;"><span>810</span></div>
<div class="c " style="left:205.40px;top:181.15px;width:39.50px;height:13.15px;"><span>156</span></div>
<div class="c " style="left:246.60px;top:181.15px;width:38.60px;height:13.15px;"><span>84%</span></div>
<div class="c " style="left:287.00px;top:181.15px;width:39.30px;height:13.15px;"><span>16%</span></div>
<div class="c " style="left:78.00px;top:196.60px;width:38.00px;height:13.15px;"><span>2023</span></div>
<div class="c " style="left:118.70px;top:196.60px;width:44.00px;height:13.15px;"><span>1429</span></div>
<div class="c " style="left:164.70px;top:196.60px;width:39.00px;height:13.15px;"><span>1370</span></div>
<div class="c " style="left:205.40px;top:196.60px;width:39.50px;height:13.15px;"><span>59</span></div>
<div class="c " style="left:246.60px;top:196.60px;width:38.60px;height:13.15px;"><span>96%</span></div>
<div class="c " style="left:287.00px;top:196.60px;width:39.30px;height:13.15px;"><span>4%</span></div>
<div class="c " style="left:78.00px;top:212.05px;width:38.00px;height:13.15px;"><span>2024</span></div>
<div class="c " style="left:118.70px;top:212.05px;width:44.00px;height:13.15px;"><span>1157</span></div>
<div class="c " style="left:164.70px;top:212.05px;width:39.00px;height:13.15px;"><span>1132</span></div>
<div class="c " style="left:205.40px;top:212.05px;width:39.50px;height:13.15px;"><span>25</span></div>
<div class="c " style="left:246.60px;top:212.05px;width:38.60px;height:13.15px;"><span>98%</span></div>
<div class="c " style="left:287.00px;top:212.05px;width:39.30px;height:13.15px;"><span>2%</span></div>
<div class="c " style="left:78.00px;top:227.10px;width:38.00px;height:11.30px;"><span>TOTAL</span></div>
<div class="c b" style="left:118.00px;top:227.10px;width:44.00px;height:11.30px;"><span>17.412</span></div>
<div class="c b" style="left:164.00px;top:227.10px;width:39.00px;height:11.30px;"><span>13.915</span></div>
<div class="c b" style="left:205.00px;top:227.10px;width:39.50px;height:11.30px;"><span>3.497</span></div>
<div class="c b" style="left:246.40px;top:227.10px;width:38.60px;height:11.30px;color:#558fcb;overflow:hidden;padding-bottom:3.2px;box-sizing:border-box;"><span>79,9%</span></div>
<div class="c b" style="left:287.00px;top:227.10px;width:39.30px;height:11.30px;color:#e8283a;overflow:hidden;padding-bottom:3.2px;box-sizing:border-box;"><span>20,1%</span></div>
<div class="c b" style="left:75.30px;top:256.30px;width:38.60px;height:13.45px;"><span>TAHUN</span></div>
<div class="c b" style="left:118.30px;top:256.30px;width:44.20px;height:13.45px;"><span>DAERAH</span></div>
<div class="c b" style="left:164.90px;top:256.30px;width:38.90px;height:13.45px;"><span>K</span></div>
<div class="c b" style="left:206.10px;top:256.30px;width:39.00px;height:13.45px;"><span>BK</span></div>
<div class="c b" style="left:247.20px;top:256.30px;width:38.50px;height:13.45px;"><span>ASESI</span></div>
<div class="c " style="left:77.70px;top:272.35px;width:38.60px;height:13.45px;"><span>2015</span></div>
<div class="c " style="left:118.30px;top:272.35px;width:44.20px;height:13.45px;"><span>32</span></div>
<div class="c " style="left:164.90px;top:272.35px;width:38.90px;height:13.45px;"><span>1.871</span></div>
<div class="c " style="left:206.10px;top:272.35px;width:39.00px;height:13.45px;"><span>541</span></div>
<div class="c " style="left:247.20px;top:272.35px;width:38.50px;height:13.45px;"><span>2.412</span></div>
<div class="c " style="left:77.70px;top:287.80px;width:38.60px;height:13.45px;"><span>2016</span></div>
<div class="c " style="left:118.30px;top:287.80px;width:44.20px;height:13.45px;"><span>19</span></div>
<div class="c " style="left:164.90px;top:287.80px;width:38.90px;height:13.45px;"><span>1.527</span></div>
<div class="c " style="left:206.10px;top:287.80px;width:39.00px;height:13.45px;"><span>452</span></div>
<div class="c " style="left:247.20px;top:287.80px;width:38.50px;height:13.45px;"><span>1.979</span></div>
<div class="c " style="left:77.70px;top:303.25px;width:38.60px;height:13.45px;"><span>2017</span></div>
<div class="c " style="left:118.30px;top:303.25px;width:44.20px;height:13.45px;"><span>35</span></div>
<div class="c " style="left:164.90px;top:303.25px;width:38.90px;height:13.45px;"><span>2.089</span></div>
<div class="c " style="left:206.10px;top:303.25px;width:39.00px;height:13.45px;"><span>571</span></div>
<div class="c " style="left:247.20px;top:303.25px;width:38.50px;height:13.45px;"><span>2.660</span></div>
<div class="c " style="left:77.70px;top:318.70px;width:38.60px;height:13.45px;"><span>2018</span></div>
<div class="c " style="left:118.30px;top:318.70px;width:44.20px;height:13.45px;"><span>42</span></div>
<div class="c " style="left:164.90px;top:318.70px;width:38.90px;height:13.45px;"><span>1.574</span></div>
<div class="c " style="left:206.10px;top:318.70px;width:39.00px;height:13.45px;"><span>516</span></div>
<div class="c " style="left:247.20px;top:318.70px;width:38.50px;height:13.45px;"><span>2.090</span></div>
<div class="c " style="left:77.70px;top:334.15px;width:38.60px;height:13.45px;"><span>2019</span></div>
<div class="c " style="left:118.30px;top:334.15px;width:44.20px;height:13.45px;"><span>43</span></div>
<div class="c " style="left:164.90px;top:334.15px;width:38.90px;height:13.45px;"><span>1.960</span></div>
<div class="c " style="left:206.10px;top:334.15px;width:39.00px;height:13.45px;"><span>567</span></div>
<div class="c " style="left:247.20px;top:334.15px;width:38.50px;height:13.45px;"><span>2.527</span></div>
<div class="c " style="left:77.70px;top:349.60px;width:38.60px;height:13.45px;"><span>2020</span></div>
<div class="c " style="left:118.30px;top:349.60px;width:44.20px;height:13.45px;"><span>25</span></div>
<div class="c " style="left:164.90px;top:349.60px;width:38.90px;height:13.45px;"><span>881</span></div>
<div class="c " style="left:206.10px;top:349.60px;width:39.00px;height:13.45px;"><span>372</span></div>
<div class="c " style="left:247.20px;top:349.60px;width:38.50px;height:13.45px;"><span>1.253</span></div>
<div class="c " style="left:77.70px;top:365.05px;width:38.60px;height:13.45px;"><span>2021</span></div>
<div class="c " style="left:118.30px;top:365.05px;width:44.20px;height:13.45px;"><span>20</span></div>
<div class="c " style="left:164.90px;top:365.05px;width:38.90px;height:13.45px;"><span>701</span></div>
<div class="c " style="left:206.10px;top:365.05px;width:39.00px;height:13.45px;"><span>238</span></div>
<div class="c " style="left:247.20px;top:365.05px;width:38.50px;height:13.45px;"><span>939</span></div>
<div class="c " style="left:77.70px;top:380.50px;width:38.60px;height:13.45px;"><span>2022</span></div>
<div class="c " style="left:118.30px;top:380.50px;width:44.20px;height:13.45px;"><span>24</span></div>
<div class="c " style="left:164.90px;top:380.50px;width:38.90px;height:13.45px;"><span>810</span></div>
<div class="c " style="left:206.10px;top:380.50px;width:39.00px;height:13.45px;"><span>156</span></div>
<div class="c " style="left:247.20px;top:380.50px;width:38.50px;height:13.45px;"><span>966</span></div>
<div class="c " style="left:77.70px;top:395.95px;width:38.60px;height:13.45px;"><span>2023</span></div>
<div class="c " style="left:118.30px;top:395.95px;width:44.20px;height:13.45px;"><span>30</span></div>
<div class="c " style="left:164.90px;top:395.95px;width:38.90px;height:13.45px;"><span>1.370</span></div>
<div class="c " style="left:206.10px;top:395.95px;width:39.00px;height:13.45px;"><span>59</span></div>
<div class="c " style="left:247.20px;top:395.95px;width:38.50px;height:13.45px;"><span>1.429</span></div>
<div class="c " style="left:77.70px;top:411.40px;width:38.60px;height:13.45px;"><span>2024</span></div>
<div class="c " style="left:118.30px;top:411.40px;width:44.20px;height:13.45px;"><span>26</span></div>
<div class="c " style="left:164.90px;top:411.40px;width:38.90px;height:13.45px;"><span>1.132</span></div>
<div class="c " style="left:206.10px;top:411.40px;width:39.00px;height:13.45px;"><span>25</span></div>
<div class="c " style="left:247.20px;top:411.40px;width:38.50px;height:13.45px;"><span>1.157</span></div>
<div class="c " style="left:77.70px;top:426.85px;width:38.60px;height:12.75px;"><span>TOTAL</span></div>
<div class="c " style="left:118.30px;top:426.85px;width:44.20px;height:12.75px;"><span>296</span></div>
<div class="c b" style="left:164.90px;top:426.85px;width:38.90px;height:12.75px;"><span>13.915</span></div>
<div class="c b" style="left:206.10px;top:426.85px;width:39.00px;height:12.75px;"><span>3.497</span></div>
<div class="c b" style="left:247.20px;top:426.85px;width:38.50px;height:12.75px;"><span>17.412</span></div>
<div class="c b" style="left:77.80px;top:504.90px;width:37.90px;height:30.00px;"><span>TAHUN</span></div>
<div class="c b" style="left:118.10px;top:504.90px;width:43.80px;height:30.00px;"><span>ASESI</span></div>
<div class="c b" style="left:164.30px;top:504.90px;width:162.00px;height:13.90px;"><span>HASIL</span></div>
<div class="c b" style="left:164.30px;top:521.60px;width:38.90px;height:13.90px;"><span>K</span></div>
<div class="c b" style="left:205.90px;top:521.60px;width:38.60px;height:13.90px;"><span>BK</span></div>
<div class="c b" style="left:247.00px;top:521.60px;width:38.50px;height:13.90px;"><span>K</span></div>
<div class="c b" style="left:288.00px;top:521.60px;width:38.30px;height:13.90px;"><span>BK</span></div>
<div class="c " style="left:77.80px;top:537.30px;width:37.90px;height:21.60px;"><span>2024</span></div>
<div class="c " style="left:118.10px;top:537.30px;width:43.80px;height:21.60px;"><span>1157</span></div>
<div class="c " style="left:164.30px;top:537.30px;width:38.90px;height:21.60px;"><span>1132</span></div>
<div class="c " style="left:205.90px;top:537.30px;width:38.60px;height:21.60px;"><span>25</span></div>
<div class="c " style="left:247.00px;top:537.30px;width:38.50px;height:21.60px;"><span>98%</span></div>
<div class="c " style="left:288.00px;top:537.30px;width:38.30px;height:21.60px;"><span>2,2%</span></div>
<div class="ttl" style="left:78.2px;top:18.2px"><span>REKAP UJI KOMPETENSI 2015 - 2024</span></div>
<div class="ttl" style="left:78.4px;top:469.4px"><span>REKAP UJI KOMPETENSI 2024</span></div>
</body></html>
